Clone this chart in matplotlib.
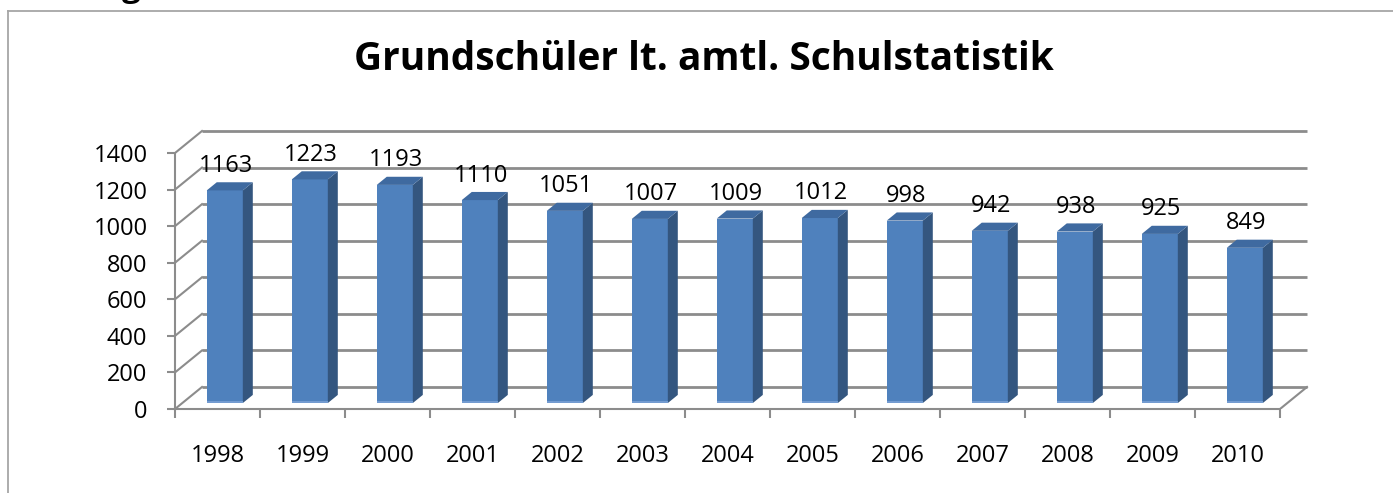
import matplotlib
matplotlib.use('Agg')
import matplotlib.pyplot as plt
from matplotlib.patches import Polygon, Rectangle
from matplotlib.lines import Line2D

plt.rcParams['font.family'] = ['Open Sans', 'DejaVu Sans']

# data
jahre = ['1998', '1999', '2000', '2001', '2002', '2003', '2004',
         '2005', '2006', '2007', '2008', '2009', '2010']
schueler = [1163, 1223, 1193, 1110, 1051, 1007, 1009, 1012, 998, 942, 938, 925, 849]
y_ticks = [0, 200, 400, 600, 800, 1000, 1200, 1400]
titel = 'Grundschüler lt. amtl. Schulstatistik'

W, H = 1393, 493
fig = plt.figure(figsize=(W / 100, H / 100), dpi=100)

# pixel geometry of the front plane (reference measurements)
px_cat = 85.0
px_val = 256.0 / 1400
xmax, ymax = 13.5, 1560
ax = fig.add_axes([175 / W, 84 / H, xmax * px_cat / W, ymax * px_val / H])
ax.set_xlim(0, xmax)
ax.set_ylim(0, ymax)

# depth of the 3d box in data units
ddx = 27 / px_cat
ddy = 22 / px_val
grid_c = '#8c8c8c'
n = len(jahre)
fs = 17

# back wall + side wall gridlines
for v in y_ticks:
    ax.plot([ddx, n + ddx], [v + ddy, v + ddy], color=grid_c, lw=2.0,
            zorder=1, solid_capstyle='butt')
    ax.plot([0, ddx], [v, v + ddy], color=grid_c, lw=1.5, zorder=1)
# right floor edge
ax.plot([n, n + ddx], [0, ddy], color=grid_c, lw=1.5, zorder=1)

# bars
t0, dt = 0.27, 0.37
w = 0.424
front_c, side_c, top_c = '#4f81bd', '#34567f', '#3f6aa0'
for i, v in enumerate(schueler):
    x0 = i + 0.5 - w / 2 + t0 * ddx
    b = t0 * ddy
    sx, sy = dt * ddx, dt * ddy
    ax.bar(x0, v, width=w, bottom=b, align='edge', color=front_c,
           linewidth=0, zorder=3)
    ax.add_patch(Rectangle((x0, b), w, 14, color='#739bd0', lw=0, zorder=3.1))
    ax.add_patch(Polygon([(x0 + w, b), (x0 + w + sx, b + sy),
                          (x0 + w + sx, b + v + sy), (x0 + w, b + v)],
                         closed=True, color=side_c, lw=0, zorder=3))
    ax.add_patch(Polygon([(x0, b + v), (x0 + w, b + v),
                          (x0 + w + sx, b + v + sy), (x0 + sx, b + v + sy)],
                         closed=True, color=top_c, lw=0, zorder=3))
    ax.annotate(str(v), xy=(x0 + w / 2 + 0.01, b + v + sy),
                xytext=(0, 7.5), textcoords='offset points',
                ha='center', va='baseline', fontsize=fs, zorder=4)

# axes
for s in ['top', 'right']:
    ax.spines[s].set_visible(False)
ax.spines['left'].set_bounds(0, 1400)
ax.spines['bottom'].set_bounds(0, n)
for s in ['left', 'bottom']:
    ax.spines[s].set_color(grid_c)
    ax.spines[s].set_linewidth(1.5)
    ax.spines[s].set_zorder(2)

ax.set_yticks(y_ticks)
ax.set_yticklabels([str(v) for v in y_ticks])
ax.tick_params(axis='y', length=5.8, width=1.5, color=grid_c, pad=14,
               labelsize=fs)
ax.set_xticks(range(n + 1))
ax.set_xticklabels([])
ax.set_xticks([i + 0.5 for i in range(n)], minor=True)
ax.set_xticklabels(jahre, minor=True)
ax.tick_params(axis='x', which='major', length=6.5, width=1.5, color=grid_c)
ax.tick_params(axis='x', which='minor', length=0, pad=25, labelsize=fs)

# title
fig.text(704 / W, 1 - 70 / H, titel, ha='center', va='baseline',
         fontsize=28, fontweight='bold')

# chart border (only left and top visible)
fig.add_artist(Line2D([8 / W, 8 / W], [0, 1 - 11 / H], color='#a6a6a6', lw=1.3,
                      transform=fig.transFigure))
fig.add_artist(Line2D([8 / W, 1], [1 - 11 / H, 1 - 11 / H], color='#a6a6a6', lw=1.3,
                      transform=fig.transFigure))
# cut-off text above the chart
fig.text(131 / W, 1 + 4 / H, 'g', ha='center', va='baseline', fontsize=24,
         fontweight='bold')

fig.savefig('out.png', dpi=100)
